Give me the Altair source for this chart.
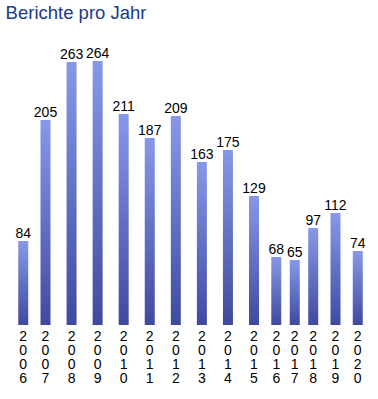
import altair as alt
import pandas as pd

years = [2006, 2007, 2008, 2009, 2010, 2011, 2012, 2013, 2014, 2015, 2016, 2017, 2018, 2019, 2020]
counts = [84, 205, 263, 264, 211, 187, 209, 163, 175, 129, 68, 65, 97, 112, 74]
title_text = "Berichte pro Jahr"

df = pd.DataFrame({"year": years, "count": counts})

FONT = "Liberation Sans"

# column width depends on the width of its value label (flex-like layout)
base = alt.Chart(df).transform_calculate(
    w="7.8 * length(toString(datum.count)) + 3.4",
    yl="join(split(toString(datum.year), ''), '\\n')",
).transform_window(
    cum="sum(w)", sort=[alt.SortField("year")], frame=[None, 0]
).transform_calculate(
    xc="datum.cum - datum.w / 2"
)

xs = alt.X("xc:Q", scale=alt.Scale(domain=[0, 363], nice=False, zero=False), axis=None)
ys = alt.Y("count:Q", scale=alt.Scale(domain=[0, 295], nice=False), axis=None)

bars = base.mark_bar(
    size=10,
    color=alt.Gradient(
        gradient="linear",
        stops=[alt.GradientStop(color="#8898e9", offset=0),
               alt.GradientStop(color="#3e4a9e", offset=1)],
        x1=0, x2=0, y1=0, y2=1,
    ),
).encode(x=xs, y=ys)

vals = base.mark_text(
    font=FONT, fontSize=14, color="#000000", baseline="alphabetic", align="center", dy=-3
).encode(x=xs, y=ys, text=alt.Text("count:Q"))

yearlab = base.mark_text(
    font=FONT, fontSize=14, color="#000000", baseline="alphabetic", align="center",
    dy=16, lineBreak="\n", lineHeight=14,
).encode(x=xs, y=alt.datum(0, scale=alt.Scale(domain=[0, 295], nice=False)), text="yl:N")

title = alt.Chart(pd.DataFrame({"t": [title_text]})).mark_text(
    font=FONT, fontSize=18.5, color="#203a8c", baseline="alphabetic", align="left"
).encode(x=alt.value(-3.4), y=alt.value(-11), text="t:N")

chart = alt.layer(bars, vals, yearlab, title).properties(
    width=363, height=295,
    padding={"left": 9, "top": 30, "right": 6, "bottom": 74},
    autosize=alt.AutoSizeParams(type="none"),
).configure_view(stroke=None)

chart.save("out.html", embed_options={"renderer": "svg", "actions": False})
